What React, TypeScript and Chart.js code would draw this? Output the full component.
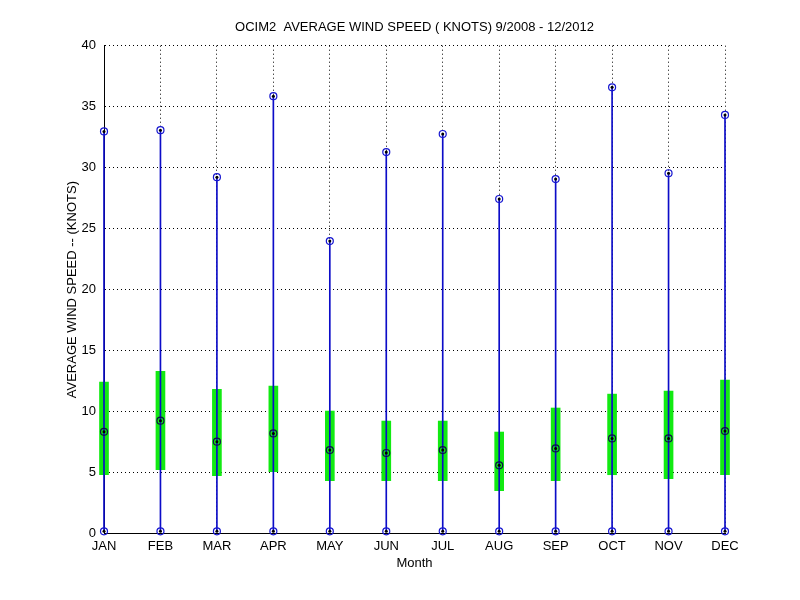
import React, { useEffect, useRef } from "react";
import { Chart, registerables } from "chart.js";

Chart.register(...registerables);

const months = ["JAN", "FEB", "MAR", "APR", "MAY", "JUN", "JUL", "AUG", "SEP", "OCT", "NOV", "DEC"];
const maxSpeed = [32.97, 33.07, 29.22, 35.86, 23.98, 31.28, 32.76, 27.43, 29.06, 36.59, 29.54, 34.32];
const minSpeed = [0.18, 0.18, 0.18, 0.18, 0.18, 0.18, 0.18, 0.18, 0.18, 0.18, 0.18, 0.18];
const meanSpeed = [8.34, 9.25, 7.53, 8.21, 6.84, 6.6, 6.84, 5.59, 6.98, 7.8, 7.8, 8.4];
const boxLow = [4.82, 5.23, 4.74, 5.07, 4.33, 4.33, 4.33, 3.51, 4.33, 4.82, 4.49, 4.82];
const boxHigh = [12.42, 13.3, 11.82, 12.09, 10.04, 9.22, 9.22, 8.32, 10.29, 11.43, 11.68, 12.58];
const yTicks = [0, 5, 10, 15, 20, 25, 30, 35, 40];

const FONT = "'Liberation Sans', Arial, Helvetica, sans-serif";

export default function App() {
  const ref = useRef<HTMLCanvasElement | null>(null);

  useEffect(() => {
    if (!ref.current) return;
    Chart.defaults.font.family = FONT;
    Chart.defaults.color = "#000";
    const pts = (arr: number[]) => arr.map((v, i) => ({ x: months[i], y: v }));
    const chart = new Chart(ref.current, {
      type: "bar",
      data: {
        labels: months,
        datasets: [
          {
            type: "bar",
            data: months.map((_, i) => [boxLow[i], boxHigh[i]]),
            backgroundColor: "#12ea12",
            borderWidth: 0,
            barThickness: 9,
            grouped: false,
            clip: false,
            order: 4,
          } as any,
          {
            type: "bar",
            data: months.map((_, i) => [minSpeed[i], maxSpeed[i]]),
            backgroundColor: "#0c0cc8",
            borderWidth: 0,
            barThickness: 1,
            grouped: false,
            clip: false,
            order: 3,
          } as any,
          {
            type: "line",
            data: [...pts(maxSpeed), ...pts(minSpeed)],
            showLine: false,
            pointRadius: 3.5,
            pointBorderWidth: 1.2,
            pointBorderColor: "#1515d0",
            pointBackgroundColor: "rgba(0,0,0,0)",
            clip: false,
            order: 2,
          } as any,
          {
            type: "line",
            data: pts(meanSpeed),
            showLine: false,
            pointRadius: 3.5,
            pointBorderWidth: 1.2,
            pointBorderColor: "#10104a",
            pointBackgroundColor: "rgba(0,0,0,0)",
            clip: false,
            order: 2,
          } as any,
          {
            type: "line",
            data: [...pts(maxSpeed), ...pts(minSpeed), ...pts(meanSpeed)],
            showLine: false,
            pointRadius: 1.5,
            pointBorderWidth: 0,
            pointBackgroundColor: "#000",
            clip: false,
            order: 1,
          } as any,
        ],
      },
      options: {
        animation: false,
        responsive: false,
        layout: { padding: { left: 0, right: 75, top: 0, bottom: 0 } },
        plugins: {
          legend: { display: false },
          tooltip: { enabled: false },
          title: {
            display: true,
            text: "OCIM2  AVERAGE WIND SPEED ( KNOTS) 9/2008 - 12/2012",
            color: "#000",
            font: { family: FONT, size: 13, weight: "normal" },
            fullSize: false,
            padding: { top: 20, bottom: 10.1 },
          },
        },
        scales: {
          x: {
            type: "category",
            offset: false,
            grid: { color: "#000", lineWidth: 1, drawTicks: false, offset: false },
            border: { display: true, color: "#000", width: 1, dash: [1, 3] },
            ticks: { padding: 5, font: { family: FONT, size: 13 }, color: "#000", maxRotation: 0, autoSkip: false },
            title: {
              display: true,
              text: "Month",
              color: "#000",
              font: { family: FONT, size: 13 },
              padding: { top: 0, bottom: 29.2 },
            },
            afterFit: (s: any) => {
              s.height = 66.5;
            },
          },
          y: {
            type: "linear",
            min: 0,
            max: 40,
            grid: { color: "#000", lineWidth: 1, drawTicks: false },
            border: { display: true, color: "#000", width: 1, dash: [1, 3] },
            afterBuildTicks: (s: any) => {
              s.ticks = yTicks.map((v) => ({ value: v }));
            },
            ticks: { padding: 8, font: { family: FONT, size: 13 }, color: "#000" },
            title: {
              display: true,
              text: "AVERAGE WIND SPEED -- (KNOTS)",
              color: "#000",
              font: { family: FONT, size: 13 },
              padding: { top: 64.2, bottom: 0 },
            },
            afterFit: (s: any) => {
              s.width = 104;
            },
          },
        },
      } as any,
    });
    return () => chart.destroy();
  }, []);

  return (
    <div style={{ position: "absolute", left: 0, top: 0, width: 800, height: 600, background: "#fff" }}>
      <canvas ref={ref} width={800} height={600} style={{ display: "block" }} />
    </div>
  );
}
